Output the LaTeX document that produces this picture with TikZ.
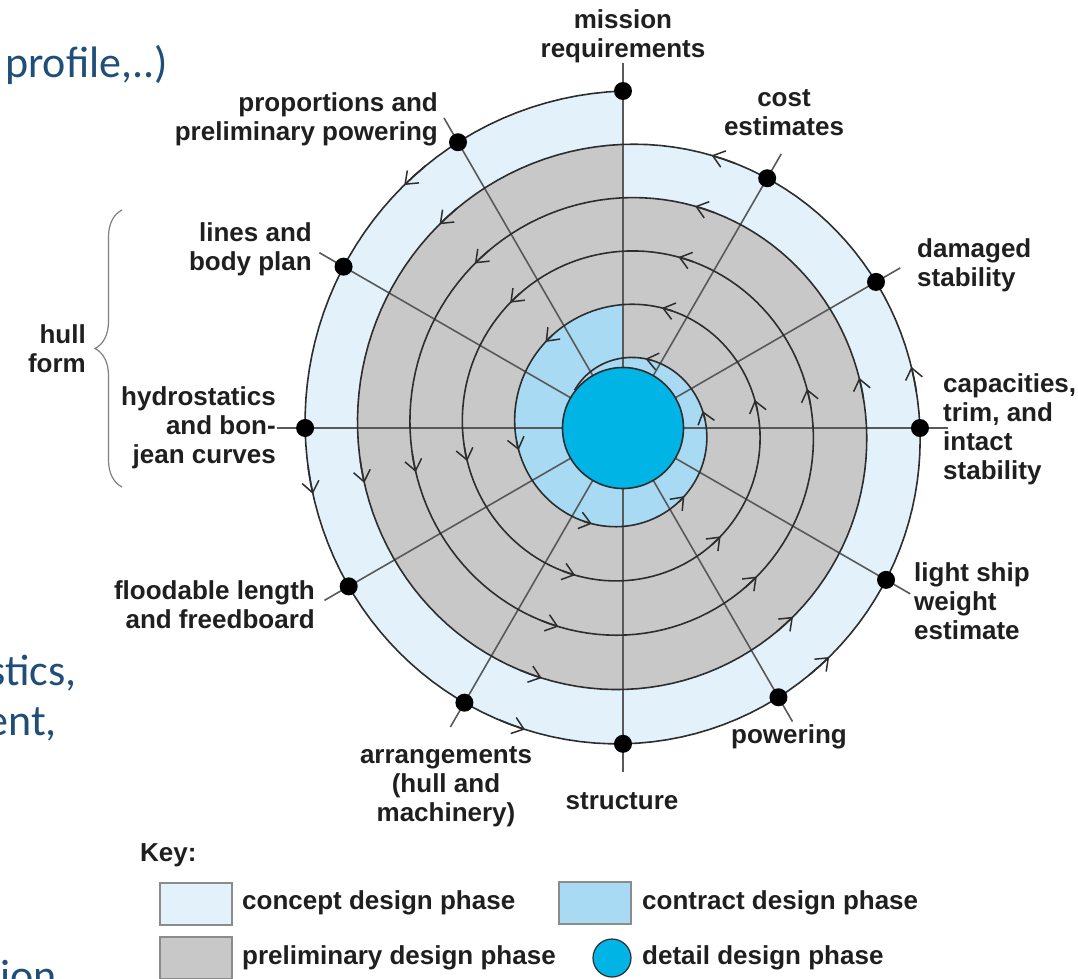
\documentclass[tikz,border=0pt]{standalone}
\usepackage{fontspec}
\setmainfont{Liberation Sans}
\newfontfamily\slidefont{Carlito}
\usepackage{xcolor}
\usetikzlibrary{arrows.meta,decorations.pathreplacing}

\definecolor{conceptblue}{RGB}{226,241,250}
\definecolor{prelimgray}{RGB}{200,200,200}
\definecolor{contractblue}{RGB}{168,218,243}
\definecolor{detailblue}{RGB}{0,180,230}
\definecolor{slideblue}{RGB}{31,78,121}
\definecolor{linegray}{RGB}{45,45,45}

\begin{document}
\begin{tikzpicture}[x=1pt,y=1pt,
            declare function={sr(\t)=337-0.14833*(\t-90)+(3*cos(\t)-3*sin(\t)-3*cos(2*\t))*(1-0.14833*(\t-90)/337);},
            spiral/.style={draw=linegray, line width=1.6pt},
            spoke/.style={draw=black!65, line width=1.6pt},
            dot/.style={shape=circle, fill=black, inner sep=0pt, minimum size=18pt},
            lbl/.style={font=\fontsize{26}{29}\selectfont\bfseries, inner sep=0pt, text=black!88},
            keybox/.style={draw=black!45, line width=1.5pt, minimum width=72pt, minimum height=42pt, inner sep=0pt},
            slide/.style={font=\slidefont\fontsize{44}{50}\selectfont, text=slideblue, inner sep=0pt}]
        \useasboundingbox (-623,-550) rectangle (455,428);
        \clip (-623,-550) rectangle (455,428);

        % phase bands
        \fill[conceptblue] plot[domain=90:450, samples=200] (\x:{sr(\x)}) -- cycle;
        \fill[prelimgray] plot[domain=450:810, samples=200] (\x:{sr(\x)}) -- cycle;
        \fill[contractblue] plot[domain=1530:1890, samples=200] (\x:{sr(\x)}) -- cycle;

        % spokes
        \foreach \j in {0,...,11}{
            \pgfmathsetmacro{\t}{90+30*\j}
            \coordinate (in\j) at (\t:61);
            \coordinate (out\j) at (\t:{sr(\t)+28});
            \draw[spoke] (in\j) -- (out\j);
        }

        % spiral and its arrows
        \draw[spiral] plot[domain=90:1942, samples=700] (\x:{sr(\x)});
        \foreach \a in {132,192,...,1872}{
            \pgfmathsetmacro{\b}{\a-5}
            \draw[spiral, -{Straight Barb[length=11pt,width=17pt,line width=1.5pt]}] plot[domain=\b:\a, samples=3] (\x:{sr(\x)});
        }

        \node[circle, fill=detailblue, draw=linegray, line width=1.6pt, minimum size=121pt, inner sep=0pt] (core) at (0,0) {};

        \foreach \j in {0,...,11}{
            \pgfmathsetmacro{\t}{90+30*\j}
            \node[dot] (p\j) at (\t:{sr(\t)}) {};
        }

        % labels
        \node[lbl, align=center] (mission) at (0,392) {mission\\requirements};
        \node[lbl, align=center] (cost) at (161,315) {cost\\estimates};
        \node[lbl, align=left, anchor=west] (damaged) at (294,163) {damaged\\stability};
        \node[lbl, align=left, anchor=west] (capacities) at (320,-1) {capacities,\\trim, and\\intact\\stability};
        \node[lbl, align=left, anchor=west] (lightship) at (291,-173) {light ship\\weight\\estimate};
        \node[lbl] (powering) at (166,-309) {powering};
        \node[lbl] (structure) at (-1,-373) {structure};
        \node[lbl, align=center] (arrangements) at (-177,-359) {arrangements\\(hull and\\machinery)};
        \node[lbl, align=right, anchor=east] (floodable) at (-308,-177) {floodable length\\and freedboard};
        \node[lbl, align=right, anchor=east] (hydrostatics) at (-347,0) {hydrostatics\\and bon-\\jean curves};
        \node[lbl, align=right, anchor=east] (lines) at (-311,179) {lines and\\body plan};
        \node[lbl, align=right, anchor=east] (proportions) at (-185,309) {proportions and\\preliminary powering};

        \node[lbl, align=right, anchor=east] (hullform) at (-537,79) {hull\\form};
        \draw[decorate, decoration={brace, amplitude=27pt}, draw=black!50, line width=1.2pt] (-501,-59) -- (-501,218);

        % key
        \node[lbl, anchor=west] (key) at (-483,-427) {Key:};
        \node[keybox, fill=conceptblue] (conceptbox) at (-427,-476) {};
        \node[keybox, fill=prelimgray] (prelimbox) at (-427,-530) {};
        \node[keybox, fill=contractblue] (contractbox) at (-28,-475) {};
        \node[circle, fill=detailblue, draw=linegray, line width=1.2pt, minimum size=38pt, inner sep=0pt] (detaildot) at (-11,-530) {};
        \node[lbl, anchor=west] (concepttext) at (-381,-475) {concept design phase};
        \node[lbl, anchor=west] (prelimtext) at (-381,-530) {preliminary design phase};
        \node[lbl, anchor=west] (contracttext) at (19,-475) {contract design phase};
        \node[lbl, anchor=west] (detailtext) at (19,-530) {detail design phase};

        % slide text behind the figure
        \node[slide, anchor=base west] (profile) at (-618,350) {profile,..)};
        \node[slide, anchor=base east] (stics) at (-546,-257) {stics,};
        \node[slide, anchor=base east] (ent) at (-566,-307) {ent,};
        \node[slide, anchor=base east] (ion) at (-566,-562) {ion};
    \end{tikzpicture}
\end{document}
